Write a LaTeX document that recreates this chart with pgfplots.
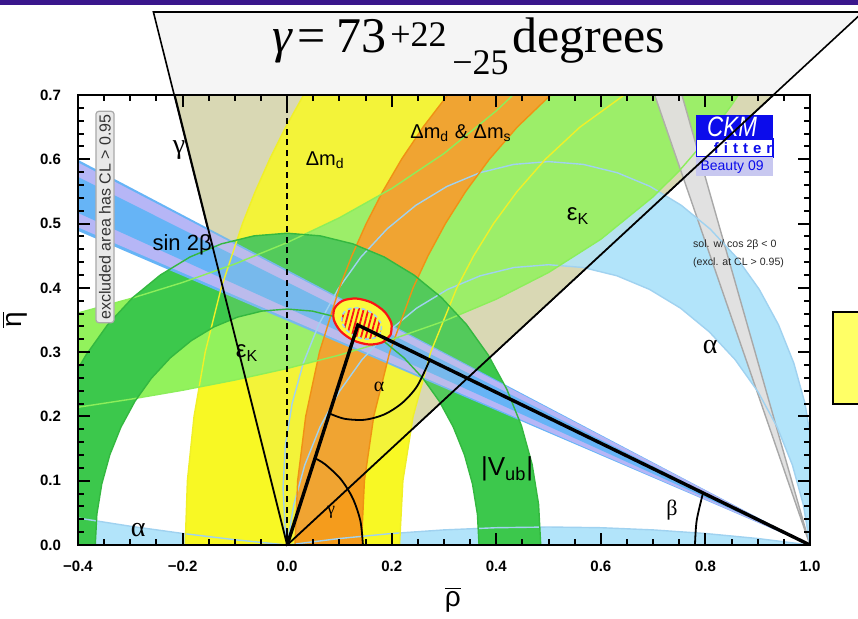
\documentclass[border=0pt]{standalone}
\usepackage{fontspec}
\setmainfont{Liberation Sans}
\newfontfamily\serif{Liberation Serif}
\usepackage{graphicx}
\usepackage{pgfplots}
\pgfplotsset{compat=1.18}
\usetikzlibrary{patterns.meta}

\definecolor{gammatan}{RGB}{217,216,180}
\definecolor{alphablue}{RGB}{178,228,250}
\definecolor{alphaline}{RGB}{160,210,240}
\definecolor{dmdyellow}{RGB}{248,248,36}
\definecolor{dmdline}{RGB}{240,240,40}
\definecolor{dmsorange}{RGB}{245,156,28}
\definecolor{dmsline}{RGB}{240,145,20}
\definecolor{ekgreen}{RGB}{146,242,92}
\definecolor{ekline}{RGB}{140,238,90}
\definecolor{vubgreen}{RGB}{60,200,76}
\definecolor{vubline}{RGB}{52,184,64}
\definecolor{stbblue}{RGB}{102,180,246}
\definecolor{stblav}{RGB}{182,182,246}
\definecolor{cosgray}{RGB}{225,225,225}
\definecolor{cosedge}{RGB}{168,168,168}
\definecolor{logoblue}{RGB}{12,12,235}
\definecolor{logolav}{RGB}{200,200,240}
\definecolor{slidepurple}{RGB}{58,22,140}
\definecolor{calloutgray}{RGB}{245,245,245}
\definecolor{notebox}{RGB}{255,255,102}
\definecolor{fitred}{RGB}{250,20,20}
\definecolor{fityellow}{RGB}{250,250,60}
\definecolor{exclgray}{RGB}{232,232,232}
\definecolor{excledge}{RGB}{170,170,170}

% constraint boundaries in the (rho, eta) plane
\newcommand\alphaOuter{(0,0) (-0.0035,0.0223) (-0.0078,0.0886) (-0.0035,0.1549) (0.0095,0.2200)
 (0.0309,0.2829) (0.0602,0.3425) (0.0971,0.3977) (0.1409,0.4477) (0.1909,0.4915) (0.2461,0.5284)
 (0.3057,0.5578) (0.3686,0.5791) (0.4337,0.5921) (0.5,0.5964) (0.5663,0.5921) (0.6314,0.5791)
 (0.6943,0.5578) (0.7539,0.5284) (0.8091,0.4915) (0.8591,0.4477) (0.9029,0.3977) (0.9398,0.3425)
 (0.9691,0.2829) (0.9905,0.2200) (1.0035,0.1549) (1.0078,0.0886) (1.0035,0.0223) (1,0)}
\newcommand\alphaInner{(1,0) (0.9875,0.0619) (0.9663,0.1244) (0.9371,0.1837) (0.9004,0.2385)
 (0.8569,0.2882) (0.8072,0.3317) (0.7524,0.3684) (0.6931,0.3976) (0.6306,0.4188) (0.5659,0.4317)
 (0.5,0.4360) (0.4341,0.4317) (0.3694,0.4188) (0.3069,0.3976) (0.2476,0.3684) (0.1928,0.3317)
 (0.1431,0.2882) (0.0996,0.2385) (0.0629,0.1837) (0.0337,0.1244) (0.0125,0.0619) (0,0)}
\newcommand\vubOuter{(0.485,0) (0.4809,0.0633) (0.4685,0.1255) (0.4481,0.1856) (0.4200,0.2425)
 (0.3848,0.2953) (0.3430,0.3430) (0.2953,0.3848) (0.2425,0.4200) (0.1856,0.4481) (0.1255,0.4685)
 (0.0633,0.4809) (0,0.485) (-0.0633,0.4809) (-0.1255,0.4685) (-0.1856,0.4481) (-0.2425,0.4200)
 (-0.2953,0.3848) (-0.3430,0.3430) (-0.3848,0.2953) (-0.4,0.2743)}
\newcommand\vubInner{(-0.367,0) (-0.3639,0.0479) (-0.3545,0.0950) (-0.3391,0.1404) (-0.3178,0.1835)
 (-0.2912,0.2234) (-0.2595,0.2595) (-0.2234,0.2912) (-0.1835,0.3178) (-0.1404,0.3391) (-0.0950,0.3545)
 (-0.0479,0.3639) (0,0.367) (0.0479,0.3639) (0.0950,0.3545) (0.1404,0.3391) (0.1835,0.3178)
 (0.2234,0.2912) (0.2595,0.2595) (0.2912,0.2234) (0.3178,0.1835) (0.3391,0.1404) (0.3545,0.0950)
 (0.3639,0.0479) (0.367,0)}
\newcommand\dmdOuter{(-0.195,0) (-0.1908,0.1) (-0.1781,0.2) (-0.1567,0.3) (-0.1261,0.4) (-0.0854,0.5)
 (-0.0609,0.55) (-0.0335,0.6) (-0.0028,0.65) (0.0315,0.7)}
\newcommand\dmdInner{(0.6447,0.7) (0.5599,0.65) (0.4938,0.6) (0.4399,0.55) (0.3948,0.5) (0.3568,0.45)
 (0.3246,0.4) (0.2746,0.3) (0.2409,0.2) (0.2214,0.1) (0.215,0)}
\newcommand\dmsOuter{(0.015,0) (0.0201,0.1) (0.0355,0.2) (0.0618,0.3) (0.0999,0.4) (0.1238,0.45)
 (0.1513,0.5) (0.1829,0.55) (0.2188,0.6) (0.2599,0.65) (0.3070,0.7)}
\newcommand\dmsInner{(0.5039,0.7) (0.4399,0.65) (0.3867,0.6) (0.3415,0.55) (0.3027,0.5) (0.2695,0.45)
 (0.2409,0.4) (0.1962,0.3) (0.1656,0.2) (0.1478,0.1) (0.142,0)}
\newcommand\ekLower{(-0.4,0.2143) (-0.3,0.2267) (-0.2,0.2407) (-0.1,0.2566) (0,0.2746) (0.1,0.2955)
 (0.2,0.3197) (0.3,0.3482) (0.4,0.3824) (0.5,0.4239) (0.6,0.4756) (0.7,0.5417) (0.75,0.5821)
 (0.8,0.6290) (0.85,0.6842) (0.8629,0.7)}
\newcommand\ekUpper{(0.432,0.7) (0.4,0.6754) (0.3,0.6090) (0.2,0.5546) (0.1,0.5090) (0,0.4704)
 (-0.1,0.4372) (-0.2,0.4084) (-0.3,0.3832) (-0.4,0.3609)}
\newcommand\alphaLow{(0,0) (0.1,0.0101) (0.2,0.0179) (0.3,0.0235) (0.4,0.0269) (0.5,0.0280)
 (0.6,0.0269) (0.7,0.0235) (0.8,0.0179) (0.9,0.0101) (1,0)}
\newcommand\alphaLeft{(-0.4,0.0420) (-0.3,0.0292) (-0.2,0.0180) (-0.1,0.0082) (0,0)}
\newcommand\fitOuter{(0.1981,0.3273) (0.1824,0.3153) (0.1564,0.3119) (0.1274,0.3181) (0.1027,0.3322)
 (0.0893,0.3504) (0.0906,0.3680) (0.1063,0.3800) (0.1323,0.3834) (0.1614,0.3772) (0.1861,0.3630)
 (0.1995,0.3448) (0.1981,0.3273)}
\newcommand\fitInner{(0.1790,0.3307) (0.1683,0.3226) (0.1507,0.3203) (0.1308,0.3245) (0.1142,0.3341)
 (0.1050,0.3464) (0.1059,0.3584) (0.1167,0.3665) (0.1343,0.3688) (0.1541,0.3646) (0.1708,0.3550)
 (0.1800,0.3427) (0.1790,0.3307)}

\begin{document}
\begin{tikzpicture}[pix/.style={x=0.5pt,y=-0.5pt,shift={(0pt,309pt)}}]
\useasboundingbox (0,0) rectangle (429pt,309pt);
\clip (0,0) rectangle (429pt,309pt);

% slide furniture behind the plot
\begin{scope}[pix]
  \fill[slidepurple] (0,0) rectangle (858,5);
  \filldraw[fill=calloutgray, draw=black, line width=0.8pt]
      (287,545) -- (153.4,12) -- (863,12) -- cycle;
  \filldraw[fill=notebox, draw=black, line width=0.9pt] (833,312) rectangle (880,404);
  \node[anchor=base west, inner sep=0, font=\serif\fontsize{25}{25}\selectfont\itshape] at (272,52) {γ};
  \node[anchor=base west, inner sep=0, font=\serif\fontsize{25}{25}\selectfont] at (297,52) {=};
  \node[anchor=base west, inner sep=0, font=\serif\fontsize{25}{25}\selectfont] at (336,52) {73};
  \node[anchor=base west, inner sep=0, font=\serif\fontsize{18}{18}\selectfont] at (390,46) {+22};
  \node[anchor=base west, inner sep=0, font=\serif\fontsize{18}{18}\selectfont] at (452,74) {−25};
  \node[anchor=base west, inner sep=0, font=\serif\fontsize{25}{25}\selectfont] at (512,52) {degrees};
\end{scope}

\begin{axis}[
  at={(39pt,36.5pt)}, anchor=south west,
  scale only axis, width=366pt, height=225pt,
  xmin=-0.4, xmax=1.0, ymin=0, ymax=0.7,
  axis on top, no markers,
  axis line style={line width=1.4pt},
  xtick={-0.4,-0.2,0,0.2,0.4,0.6,0.8,1.0},
  xticklabels={−0.4,−0.2,0.0,0.2,0.4,0.6,0.8,1.0},
  ytick={0,0.1,0.2,0.3,0.4,0.5,0.6,0.7},
  yticklabels={0.0,0.1,0.2,0.3,0.4,0.5,0.6,0.7},
  minor x tick num=3, minor y tick num=4,
  major tick length=6pt, minor tick length=3pt,
  tick style={black, line width=1pt},
  tick label style={font=\bfseries\fontsize{7.5}{8}\selectfont},
  xticklabel style={yshift=-4.5pt},
  yticklabel style={xshift=-5pt},
  xlabel={$\overline{\mbox{ρ}}$},
  ylabel={$\overline{\mbox{η}}$},
  xlabel style={font=\fontsize{14}{14}\selectfont, at={(axis description cs:0.512,-0.122)}, anchor=center},
  ylabel style={font=\fontsize{14}{14}\selectfont, at={(axis description cs:-0.086,0.5)}, anchor=center},
]

% gamma
\addplot[fill=gammatan, draw=none] coordinates {(0,0) (-0.215,0.7) (0.93,0.7)} -- cycle;

% alpha: upper crescent and the two low slivers
\addplot[fill=alphablue, draw=none] coordinates {\alphaOuter \alphaInner} -- cycle;
\addplot[fill=alphablue, draw=none] coordinates {\alphaLow} -- cycle;
\addplot[fill=alphablue, draw=none] coordinates {(-0.4,0) \alphaLeft} -- cycle;

% Delta m_d
\addplot[fill=dmdyellow, draw=none] coordinates {\dmdOuter \dmdInner} -- cycle;

% epsilon_K
\addplot[fill=ekgreen, draw=none] coordinates {\ekLower \ekUpper} -- cycle;

% Delta m_d & Delta m_s
\addplot[fill=dmsorange, draw=none] coordinates {\dmsOuter \dmsInner} -- cycle;

% |V_ub|
\addplot[fill=vubgreen, draw=none] coordinates {\vubOuter (-0.4,0) \vubInner} -- cycle;

% sin 2beta
\addplot[fill=stbblue, draw=none] coordinates {(1,0) (-0.4,0.5992) (-0.4,0.4886)} -- cycle;
\addplot[fill=stblav, draw=none] coordinates {(1,0) (-0.4,0.5950) (-0.4,0.4942)} -- cycle;
\addplot[fill=stbblue, draw=none] coordinates {(1,0) (-0.4,0.5726) (-0.4,0.5166)} -- cycle;

% cos 2beta < 0 solution
\addplot[fill=cosgray, draw=cosedge, line width=0.7pt] coordinates {(1,0) (0.703,0.7) (0.755,0.7)} -- cycle;

% faint tint inside the gamma wedge
\addplot[fill=gammatan, fill opacity=0.15, draw=none] coordinates {(0,0) (-0.215,0.7) (0.93,0.7)} -- cycle;

% contour lines of every constraint
\addplot[alphaline, line width=0.7pt] coordinates {\alphaOuter};
\addplot[alphaline, line width=0.7pt] coordinates {\alphaInner};
\addplot[alphaline, line width=0.7pt] coordinates {\alphaLow};
\addplot[alphaline, line width=0.7pt] coordinates {\alphaLeft};
\addplot[dmdline, line width=0.7pt] coordinates {\dmdOuter};
\addplot[dmdline, line width=0.7pt] coordinates {\dmdInner};
\addplot[dmsline, line width=0.7pt] coordinates {\dmsOuter};
\addplot[dmsline, line width=0.7pt] coordinates {\dmsInner};
\addplot[ekline, line width=0.7pt] coordinates {\ekLower};
\addplot[ekline, line width=0.7pt] coordinates {\ekUpper};
\addplot[vubline, line width=0.7pt] coordinates {\vubOuter};
\addplot[vubline, line width=0.7pt] coordinates {\vubInner};

% CKMfitter logo and note
\fill[logoblue] (axis cs:0.7822,0.6688) rectangle (axis cs:0.9294,0.6315);
\filldraw[fill=white, draw=logoblue, line width=0.6pt] (axis cs:0.7822,0.6315) rectangle (axis cs:0.9294,0.6035);
\fill[logolav] (axis cs:0.7822,0.6035) rectangle (axis cs:0.9294,0.5740);
\node[text=white, font=\fontsize{14}{14}\selectfont\itshape] at (axis cs:0.851,0.6500) {\scalebox{0.8}[1]{CKM}};
\node[text=logoblue, font=\bfseries\fontsize{7.5}{8}\selectfont] at (axis cs:0.872,0.6170) {f\,\,i\,\,t\,\,t\,\,e\,\,r};
\node[text=logoblue, font=\fontsize{7}{7}\selectfont] at (axis cs:0.851,0.5885) {Beauty 09};
\node[anchor=west, align=left, font=\fontsize{5.3}{9}\selectfont, text=black!85] at (axis cs:0.763,0.4526)
   {sol. w/ cos 2β < 0\\(excl. at CL > 0.95)};

% dashed rho = 0 line
\addplot[black, line width=0.8pt, dash pattern=on 3pt off 2.4pt] coordinates {(0,0) (0,0.7)};

% global fit: 95% region with the 68% hatched core
\addplot[fill=fityellow, draw=fitred, line width=1.1pt, smooth] coordinates {\fitOuter};
\addplot[draw=none, pattern={Lines[angle=75, distance=2.3pt, line width=0.9pt]}, pattern color=fitred, smooth]
   coordinates {\fitInner};
\addplot[alphaline, line width=0.8pt, dash pattern=on 2pt off 1.5pt, smooth] coordinates {\fitInner};

% unitarity triangle and its angles
\addplot[black, line width=1.7pt] coordinates {(0,0) (0.1352,0.3422) (1,0)};
\addplot[black, line width=0.9pt, smooth] coordinates {
 (0.0808,0.2046) (0.1095,0.1964) (0.1481,0.1948) (0.1858,0.2031) (0.2201,0.2210) (0.2486,0.2471) (0.2728,0.2877)};
\addplot[black, line width=0.9pt, smooth] coordinates {
 (0.145,0) (0.1401,0.0375) (0.1256,0.0725) (0.1025,0.1025) (0.0725,0.1256) (0.0533,0.1349)};
\addplot[black, line width=0.9pt, smooth] coordinates {(0.78,0) (0.7833,0.0382) (0.7954,0.0810)};

% gamma range lines
\addplot[black, line width=0.9pt] coordinates {(-0.215,0.7) (0,0) (0.93,0.7)};

% labels
\node[font=\serif\fontsize{14}{14}\selectfont] at (axis cs:-0.2065,0.6144) {γ};
\node[font=\fontsize{10}{10}\selectfont] at (axis cs:0.0727,0.599) {Δm\textsubscript{d}};
\node[font=\fontsize{10}{10}\selectfont] at (axis cs:0.3327,0.6407) {Δm\textsubscript{d} \& Δm\textsubscript{s}};
\node[font=\fontsize{12}{12}\selectfont] at (axis cs:0.5565,0.5117) {ε\textsubscript{K}};
\node[font=\fontsize{12}{12}\selectfont] at (axis cs:-0.0765,0.2987) {ε\textsubscript{K}};
\node[font=\fontsize{11}{11}\selectfont] at (axis cs:-0.2008,0.4666) {sin 2β};
\node[font=\serif\fontsize{14}{14}\selectfont] at (axis cs:-0.285,0.0233) {α};
\node[font=\serif\fontsize{14}{14}\selectfont] at (axis cs:0.809,0.308) {α};
\node[font=\serif\fontsize{10}{10}\selectfont] at (axis cs:0.176,0.246) {α};
\node[font=\fontsize{13}{13}\selectfont] at (axis cs:0.4207,0.1182) {|V\textsubscript{ub}|};
\node[font=\serif\fontsize{9}{9}\selectfont] at (axis cs:0.084,0.0513) {γ};
\node[font=\serif\fontsize{11}{11}\selectfont] at (axis cs:0.736,0.0544) {β};
\end{axis}

\begin{scope}[pix]
  \node[rotate=90, fill=exclgray, draw=excledge, line width=0.6pt, rounded corners=1.5pt,
        inner sep=1.6pt, text=black!80, font=\fontsize{8}{8}\selectfont] at (105,217)
        {excluded area has CL > 0.95};
\end{scope}
\end{tikzpicture}
\end{document}
